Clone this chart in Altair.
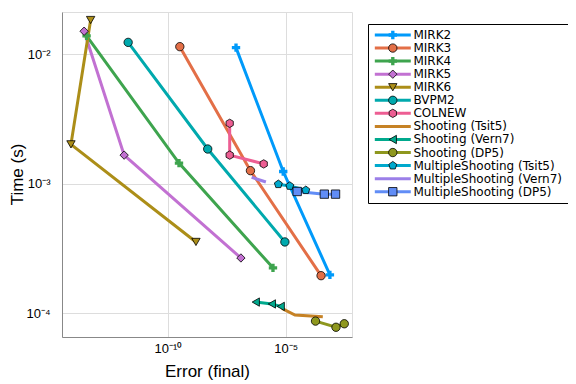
import altair as alt
import pandas as pd

series_names = ["MIRK2", "MIRK3", "MIRK4", "MIRK5", "MIRK6", "BVPM2", "COLNEW",
                "Shooting (Tsit5)", "Shooting (Vern7)", "Shooting (DP5)",
                "MultipleShooting (Tsit5)", "MultipleShooting (Vern7)", "MultipleShooting (DP5)"]
colors = ["#009AFA", "#E36F47", "#3EA44E", "#C271D2", "#AC8E18", "#00A9AD", "#ED5E93",
          "#C68225", "#00A98D", "#8E971E", "#00A9CD", "#9B7FE8", "#618DF6"]
HEX = "M0,-1L0.866,-0.5L0.866,0.5L0,1L-0.866,0.5L-0.866,-0.5Z"
PENT = "M0,-1L0.951,-0.309L0.588,0.809L-0.588,0.809L-0.951,-0.309Z"
shapes = ["cross", "circle", "cross", "diamond", "triangle-down", "circle", HEX,
          "circle", "triangle-left", "circle", PENT, "circle", "square"]
has_marker = [True, True, True, True, True, True, True, False, True, True, True, False, True]
outlined = [False, True, False, True, True, True, True, False, True, True, True, False, True]

errors = [
    [7.8e-8, 7.9e-6, 7.6e-4],
    [3.2e-10, 3.2e-7, 3.2e-4],
    [3.5e-14, 2.95e-10, 2.9e-6],
    [2.75e-14, 1.38e-12, 1.26e-7],
    [5.2e-14, 7.6e-15, 1.55e-9],
    [2.04e-12, 4.9e-9, 9.3e-6],
    [4.2e-8, 4.2e-8, 1.17e-6],
    [6.9e-6, 2.5e-5, 3.8e-4],
    [5.4e-7, 2.6e-6, 6.2e-6],
    [1.86e-4, 1.38e-3, 3.1e-3],
    [4.9e-6, 1.5e-5, 7.2e-5],
    [3.6e-7, 1.45e-6],
    [3.1e-5, 4.4e-4, 1.32e-3],
]
times = [
    [1.12e-2, 1.24e-3, 1.98e-4],
    [1.14e-2, 1.26e-3, 1.95e-4],
    [1.38e-2, 1.44e-3, 2.24e-4],
    [1.5e-2, 1.66e-3, 2.67e-4],
    [1.83e-2, 2.01e-3, 3.55e-4],
    [1.23e-2, 1.85e-3, 3.55e-4],
    [2.92e-3, 1.66e-3, 1.42e-3],
    [1.09e-4, 9.7e-5, 9.4e-5],
    [1.22e-4, 1.18e-4, 1.13e-4],
    [8.7e-5, 7.8e-5, 8.3e-5],
    [9.9e-4, 9.6e-4, 8.9e-4],
    [1.12e-3, 1.03e-3],
    [8.7e-4, 8.3e-4, 8.3e-4],
]

x_ticks = [1e-10, 1e-5]
x_tick_labels = ["10\u207b\u00b9\u2070", "10\u207b\u2075"]
y_ticks = [1e-4, 1e-3, 1e-2]
y_tick_labels = ["10\u207b\u2074", "10\u207b\u00b3", "10\u207b\u00b2"]
x_domain = [3.16e-15, 6.6e-3]
y_domain = [6.56e-5, 2.11e-2]

# marker-legend keys differ from line-legend keys so the two legends stay separate
marker_keys = [s + " " for s in series_names]

rows = []
for s, k, xs, ys in zip(series_names, marker_keys, errors, times):
    for i, (xv, yv) in enumerate(zip(xs, ys)):
        rows.append({"series": s, "series_p": k, "idx": i, "err": xv, "time": yv})
df = pd.DataFrame(rows)
marker_series = [s for s, m in zip(series_names, has_marker) if m]
df_pts = df[df["series"].isin(marker_series)]


def label_expr(vals, labels):
    parts = [f"abs(datum.value/{v} - 1) < 0.01 ? '{l}'" for v, l in zip(vals, labels)]
    return " : ".join(parts) + " : ''"


FONT = "DejaVu Sans"
xenc = alt.X("err:Q", scale=alt.Scale(type="log", domain=x_domain, nice=False),
             axis=alt.Axis(title="Error (final)", values=x_ticks,
                           labelExpr=label_expr(x_ticks, x_tick_labels),
                           ticks=False, labelPadding=5, titleFontSize=17,
                           titleFontWeight="normal", titleY=34, titleBaseline="middle",
                           labelFontSize=13))
yenc = alt.Y("time:Q", scale=alt.Scale(type="log", domain=y_domain, nice=False),
             axis=alt.Axis(title="Time (s)", values=y_ticks,
                           labelExpr=label_expr(y_ticks, y_tick_labels),
                           ticks=False, labelPadding=12, titleFontSize=17,
                           titleFontWeight="normal", titleX=-45, titleY=162,
                           titleAngle=270, titleBaseline="middle", titleAlign="center",
                           labelFontSize=13))

LINE_SYM = "M-4.3,0H4.3"
common_leg = dict(title=None, orient="none", legendX=306, legendY=12,
                  symbolSize=70, labelFont=FONT, labelFontSize=12,
                  labelOffset=14.6, symbolOffset=13.8, padding=5, rowPadding=1.06,
                  clipHeight=12, labelColor="black", labelLimit=400)

lines = alt.Chart(df).mark_line(strokeWidth=3, clip=True).encode(
    x=xenc, y=yenc,
    color=alt.Color("series:N", sort=series_names,
                    scale=alt.Scale(domain=series_names, range=colors),
                    legend=alt.Legend(symbolType=LINE_SYM, symbolStrokeWidth=3,
                                      strokeColor="black", **common_leg)),
    order="idx:Q",
)

fill_range = [c if m else "transparent" for c, m in zip(colors, has_marker)]
stroke_range = ["black" if o else "transparent" for o in outlined]
points = alt.Chart(df_pts).mark_point(filled=True, size=70, opacity=1, strokeWidth=0.8).encode(
    x=xenc, y=yenc,
    fill=alt.Fill("series_p:N", sort=marker_keys,
                  scale=alt.Scale(domain=marker_keys, range=fill_range),
                  legend=alt.Legend(symbolStrokeWidth=0.8, labelOpacity=0, **common_leg)),
    shape=alt.Shape("series_p:N", sort=marker_keys,
                    scale=alt.Scale(domain=marker_keys, range=shapes)),
    stroke=alt.Stroke("series_p:N", sort=marker_keys,
                      scale=alt.Scale(domain=marker_keys, range=stroke_range)),
)

chart = alt.layer(lines, points).properties(
    width=290, height=325,
    autosize=alt.AutoSizeParams(type="none"),
    padding={"left": 54, "top": 4, "right": 216, "bottom": 46},
).configure_view(stroke=None).configure_axis(
    labelFont=FONT, titleFont=FONT, labelColor="black", titleColor="black",
    domainColor="#333333", domainWidth=1, gridColor="#ececec", gridWidth=0.6,
).configure(background="white")

chart.save("out.html", embed_options={"renderer": "svg", "actions": False})
